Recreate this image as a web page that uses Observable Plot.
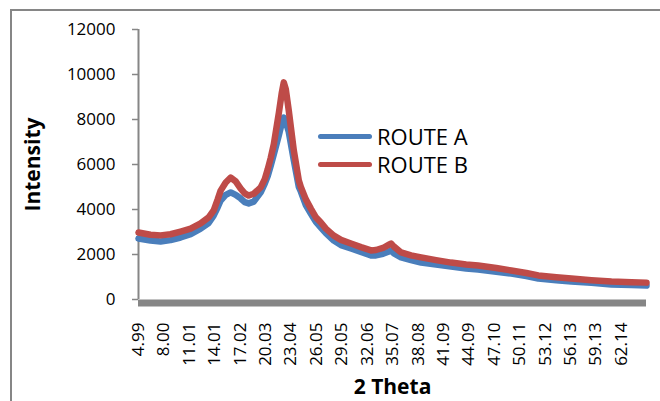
<!DOCTYPE html>
<html>
<head>
<meta charset="utf-8">
<script src="https://cdn.jsdelivr.net/npm/d3@7"></script>
<script src="https://cdn.jsdelivr.net/npm/@observablehq/plot@0.6"></script>
<style>
  html, body { margin: 0; padding: 0; background: #fff; overflow: hidden; width: 660px; height: 401px; }
  #wrap { position: relative; width: 660px; height: 401px; font-family: "Open Sans", sans-serif; }
  #frame { position: absolute; left: 10px; top: 9px; width: 800px; height: 600px; border: 2px solid #868686; box-sizing: border-box; }
  #chart { position: absolute; left: 0; top: 0; }
  .legend { position: absolute; left: 318px; top: 122px; font-size: 22px; color: #000; line-height: 28px; }
  .legend div { display: flex; align-items: center; }
  .legend span.sw { display: inline-block; width: 54px; height: 5px; border-radius: 3px; margin-right: 5px; }
</style>
</head>
<body>
<div id="wrap">
  <div id="frame"></div>
  <div id="chart"></div>
  <div class="legend" id="legend"></div>
</div>
<script>
const theta  = [4.99, 6.41, 7.60, 8.78, 9.97, 11.16, 12.34, 13.29, 13.88, 14.36, 14.71, 15.31, 15.90, 16.49, 17.08, 17.56, 18.03, 18.63, 19.45, 19.93, 20.29, 20.64, 21.00, 21.60, 21.95, 22.18, 22.42, 22.77, 23.37, 23.96, 24.20, 24.79, 25.38, 25.98, 26.57, 27.16, 28.10, 28.94, 30.13, 31.31, 32.50, 33.09, 33.92, 34.63, 34.87, 35.22, 36.06, 37.24, 38.43, 40.20, 41.98, 43.76, 45.18, 47.32, 49.10, 50.88, 52.30, 54.43, 56.21, 58.58, 60.95, 63.32, 65.10];
const routeA = [2710, 2620, 2580, 2640, 2755, 2900, 3150, 3400, 3730, 4100, 4400, 4650, 4760, 4650, 4490, 4330, 4270, 4350, 4760, 5150, 5500, 5950, 6450, 7300, 7850, 8090, 7900, 7450, 6180, 5000, 4800, 4200, 3820, 3450, 3200, 2950, 2620, 2420, 2270, 2120, 1960, 1960, 2030, 2130, 2180, 2050, 1870, 1750, 1640, 1550, 1470, 1380, 1330, 1230, 1150, 1040, 930, 860, 800, 740, 670, 640, 620];
const routeB = [2978, 2880, 2850, 2900, 3020, 3150, 3380, 3650, 3955, 4450, 4840, 5200, 5420, 5250, 4930, 4720, 4620, 4700, 4980, 5350, 5800, 6300, 6900, 8300, 9200, 9650, 9350, 8400, 6620, 5290, 5000, 4450, 4040, 3650, 3420, 3150, 2840, 2650, 2490, 2330, 2180, 2200, 2290, 2440, 2490, 2350, 2090, 1960, 1870, 1750, 1640, 1560, 1510, 1400, 1290, 1180, 1070, 990, 930, 860, 800, 770, 750];
const xTicks = [4.99, 8.00, 11.01, 14.01, 17.02, 20.03, 23.04, 26.05, 29.05, 32.06, 35.07, 38.08, 41.09, 44.09, 47.10, 50.11, 53.12, 56.13, 59.13, 62.14];
const yTicks = [0, 2000, 4000, 6000, 8000, 10000, 12000];
const seriesNames = ["ROUTE A", "ROUTE B"];
const seriesColors = ["#4A7EBB", "#BE4B48"];

const rows = [];
theta.forEach((t, i) => {
  rows.push({theta: t, value: routeA[i], series: seriesNames[0]});
});
theta.forEach((t, i) => {
  rows.push({theta: t, value: routeB[i], series: seriesNames[1]});
});

const gray = "#868686";
const chart = Plot.plot({
  width: 660,
  height: 401,
  marginLeft: 138,
  marginRight: 14,
  marginTop: 29,
  marginBottom: 102,
  style: {fontFamily: "'Open Sans', sans-serif", color: "#000", background: "transparent", overflow: "visible"},
  x: {domain: [theta[0], theta[theta.length - 1]], axis: null},
  y: {domain: [0, 12000]},
  color: {domain: seriesNames, range: seriesColors},
  marks: [
    Plot.axisY({ticks: yTicks, tickSize: 6, tickPadding: 17, stroke: gray, strokeWidth: 1.5, fill: "#000", fontSize: 17, label: null, tickFormat: d => String(d)}),
    Plot.ruleX([theta[0]], {y1: 0, y2: 12000, stroke: gray, strokeWidth: 2}),
    Plot.line(rows, {x: "theta", y: "value", stroke: "series", z: "series", strokeWidth: 6.5, strokeLinejoin: "round", strokeLinecap: "round"}),
    Plot.ruleY([0], {x1: theta[0], x2: theta[theta.length - 1], stroke: gray, strokeWidth: 7, dy: 3.5}),
    Plot.text(xTicks, {x: d => d, frameAnchor: "bottom", dy: 23, rotate: -90, textAnchor: "end", lineAnchor: "middle", text: d => d.toFixed(2), fontSize: 17, fill: "#000"}),
    Plot.text(["Intensity"], {frameAnchor: "left", dx: -105, rotate: -90, textAnchor: "middle", lineAnchor: "middle", fontSize: 21, fontWeight: "bold", fill: "#000"}),
    Plot.text(["2 Theta"], {frameAnchor: "bottom", dy: 88, textAnchor: "middle", lineAnchor: "middle", fontSize: 21, fontWeight: "bold", fill: "#000"})
  ]
});
document.getElementById("chart").appendChild(chart);

const leg = document.getElementById("legend");
seriesNames.forEach((n, i) => {
  const row = document.createElement("div");
  row.innerHTML = `<span class="sw" style="background:${seriesColors[i]}"></span><span>${n}</span>`;
  leg.appendChild(row);
});
</script>
</body>
</html>
